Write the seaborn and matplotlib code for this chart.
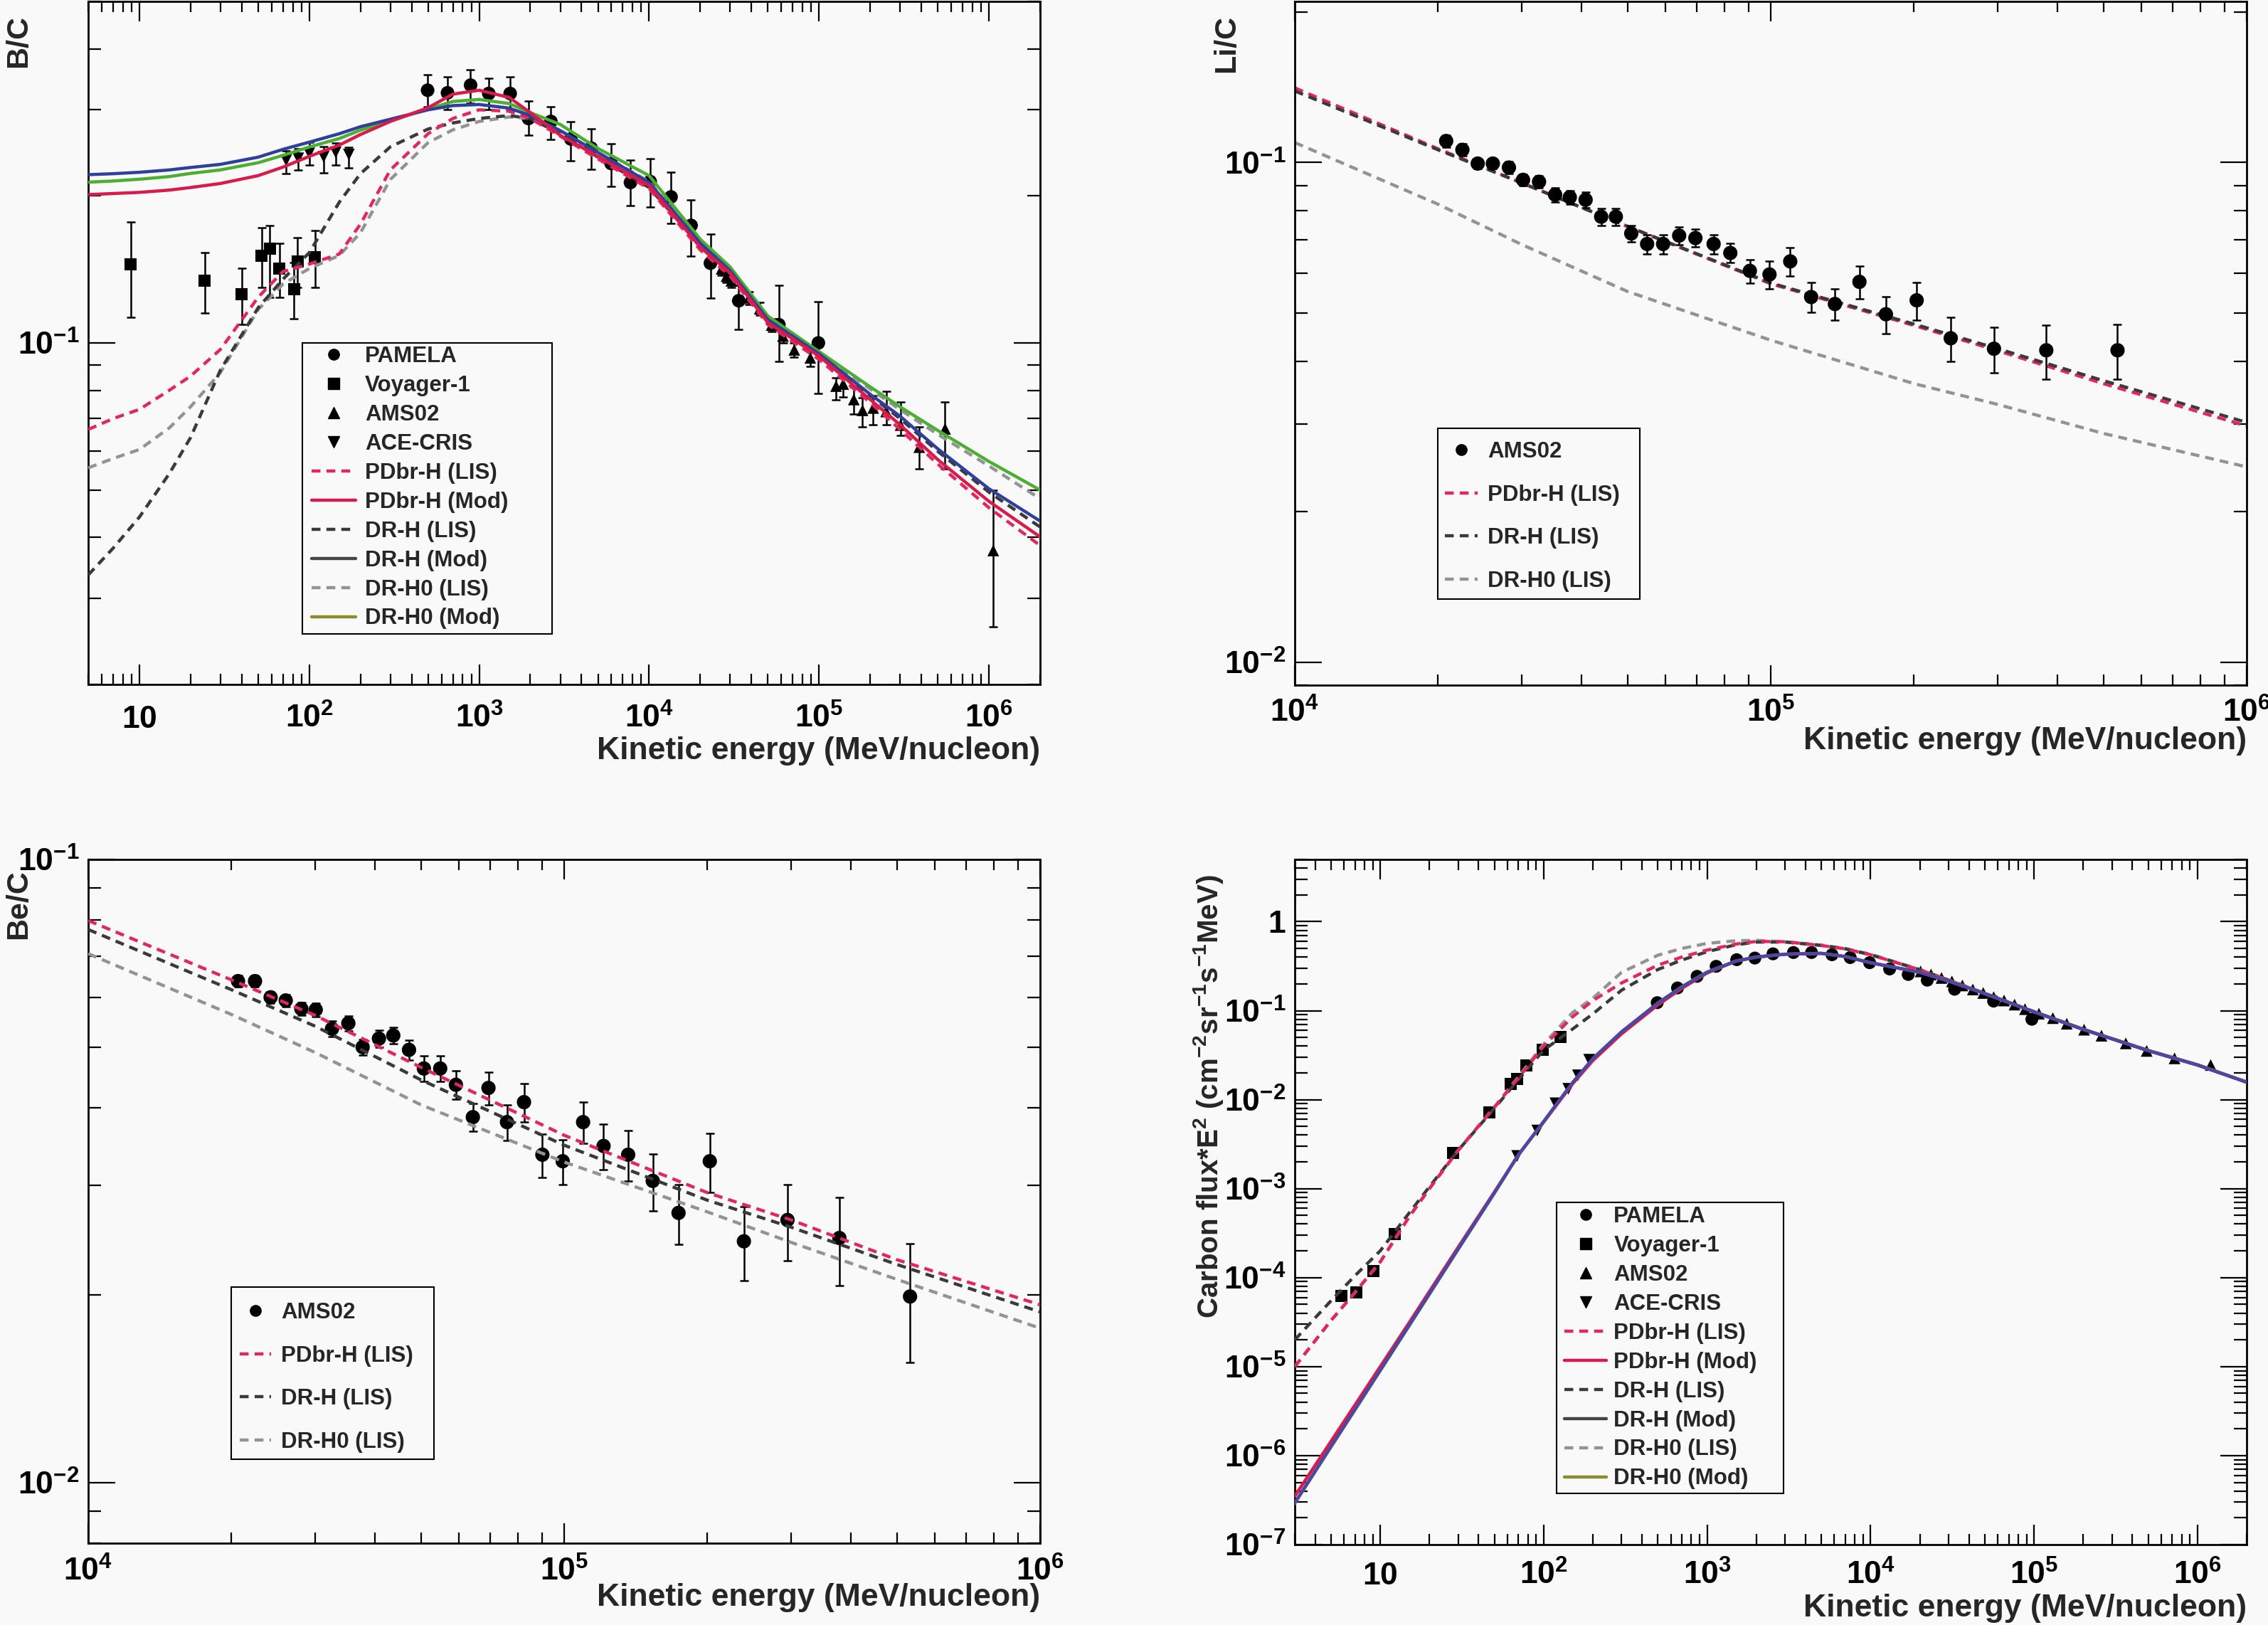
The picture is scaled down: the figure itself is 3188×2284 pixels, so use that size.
import numpy as np
import matplotlib
matplotlib.use("Agg")
import matplotlib.pyplot as plt
import seaborn as sns
from matplotlib import font_manager as fm
from matplotlib.lines import Line2D
from matplotlib.patches import Rectangle
from matplotlib.ticker import LogLocator, FuncFormatter, NullFormatter

# ---------------- B/C panel data ----------------
bc_pamela_x = [497, 651, 890, 1139, 1521, 1950, 2641, 3462, 4559, 5975, 7767, 10140, 13460, 17660, 22950, 33700, 58000, 99100]
bc_pamela_y = [0.329, 0.325, 0.337, 0.324, 0.324, 0.288, 0.284, 0.2615, 0.2505, 0.233, 0.213, 0.214, 0.199, 0.174, 0.1456, 0.122, 0.109, 0.100]
bc_pamela_lo = [0.304, 0.300, 0.310, 0.300, 0.300, 0.266, 0.261, 0.236, 0.2265, 0.209, 0.191, 0.190, 0.1757, 0.1506, 0.1237, 0.1065, 0.0916, 0.0788]
bc_pamela_hi = [0.354, 0.350, 0.362, 0.348, 0.350, 0.3126, 0.304, 0.284, 0.274, 0.256, 0.237, 0.238, 0.2234, 0.1965, 0.167, 0.1313, 0.131, 0.1216]

bc_voyager_x = [8.9, 24.2, 40.0, 52.5, 58.7, 66.8, 81.1, 85.3, 108]
bc_voyager_y = [0.145, 0.134, 0.126, 0.151, 0.156, 0.142, 0.129, 0.147, 0.150]
bc_voyager_lo = [0.113, 0.115, 0.109, 0.130, 0.124, 0.124, 0.112, 0.130, 0.130]
bc_voyager_hi = [0.177, 0.153, 0.142, 0.172, 0.174, 0.160, 0.146, 0.164, 0.170]

bc_ace_x = [73.1, 86.1, 100, 121.5, 143, 171]
bc_ace_y = [0.2365, 0.2387, 0.2443, 0.2404, 0.2455, 0.243]
bc_ace_lo = [0.222, 0.2256, 0.2312, 0.2231, 0.2312, 0.2279]
bc_ace_hi = [0.247, 0.250, 0.257, 0.2519, 0.2563, 0.2513]

bc_ams_x = [26700, 28550, 30480, 38730, 44770, 52600, 61340, 71500, 88900, 126000, 138700, 160200, 180300, 208300, 248200, 302000, 389000, 552000, 1060000]
bc_ams_y = [0.1418, 0.137, 0.134, 0.1237, 0.1175, 0.1088, 0.1033, 0.0968, 0.0932, 0.0816, 0.0824, 0.0766, 0.0728, 0.0736, 0.0724, 0.0679, 0.0612, 0.0667, 0.0376]
bc_ams_lo = [0.1375, 0.133, 0.130, 0.120, 0.114, 0.1055, 0.100, 0.0935, 0.0895, 0.0766, 0.0775, 0.0714, 0.0673, 0.0679, 0.0679, 0.0647, 0.0553, 0.0553, 0.0262]
bc_ams_hi = [0.146, 0.141, 0.138, 0.1275, 0.121, 0.112, 0.1065, 0.100, 0.097, 0.0848, 0.0870, 0.0813, 0.0772, 0.0781, 0.0795, 0.0757, 0.0673, 0.0757, 0.0499]

bc_energy = [5, 7, 10, 15, 20, 30, 50, 70, 100, 150, 200, 300, 500, 700, 1000, 1500, 2000, 3000, 5000,
             1e4, 2e4, 3e4, 5e4, 1e5, 2e5, 3e5, 5e5, 1e6, 2e6]
bc_pdbr_lis = [0.0665, 0.070, 0.0731, 0.080, 0.0855, 0.097, 0.124, 0.140, 0.145, 0.152, 0.175, 0.226, 0.268, 0.288, 0.300,
               0.298, 0.288, 0.265, 0.238, 0.207, 0.155, 0.137, 0.109, 0.0925, 0.0755, 0.0665, 0.0565, 0.046, 0.0385]
bc_pdbr_mod = [0.2012, 0.2022, 0.2033, 0.2055, 0.208, 0.212, 0.220, 0.229, 0.2409, 0.254, 0.267, 0.284, 0.303, 0.323, 0.329,
               0.318, 0.296, 0.266, 0.241, 0.210, 0.157, 0.139, 0.110, 0.094, 0.0766, 0.068, 0.0577, 0.0474, 0.0401]
bc_drh_lis = [0.0335, 0.038, 0.0440, 0.054, 0.064, 0.088, 0.118, 0.135, 0.153, 0.194, 0.222, 0.252, 0.274, 0.282, 0.288,
              0.292, 0.288, 0.268, 0.240, 0.208, 0.158, 0.139, 0.1105, 0.094, 0.078, 0.070, 0.060, 0.0495, 0.042]
bc_drh_mod = [0.221, 0.222, 0.2235, 0.226, 0.2286, 0.232, 0.240, 0.249, 0.2576, 0.268, 0.277, 0.287, 0.300, 0.306, 0.3076,
              0.3024, 0.292, 0.272, 0.2454, 0.213, 0.160, 0.1406, 0.1116, 0.095, 0.0785, 0.0708, 0.0607, 0.0503, 0.0432]
bc_drh0_lis = [0.0555, 0.058, 0.0605, 0.067, 0.074, 0.087, 0.117, 0.132, 0.142, 0.151, 0.168, 0.216, 0.257, 0.273, 0.284,
               0.290, 0.288, 0.272, 0.245, 0.214, 0.161, 0.142, 0.1125, 0.0955, 0.0805, 0.0730, 0.065, 0.0560, 0.048]
bc_drh0_mod = [0.2133, 0.2145, 0.2163, 0.219, 0.2223, 0.226, 0.2338, 0.242, 0.2518, 0.262, 0.2726, 0.285, 0.301, 0.312, 0.315,
               0.309, 0.296, 0.280, 0.250, 0.220, 0.163, 0.143, 0.1135, 0.096, 0.0813, 0.074, 0.0662, 0.0572, 0.0500]

# ---------------- Li/C panel data ----------------
li_ams_x = [20800, 22500, 24230, 26070, 28180, 30170, 32600, 35240, 37830, 40840, 44030, 47270, 50930, 54990, 59410, 64210,
            69460, 75860, 82240, 90400, 99400, 109900, 121600, 136400, 153600, 174600, 202600, 238900, 294500, 379300, 535400]
li_ams_y = [0.1104, 0.106, 0.0995, 0.0995, 0.0977, 0.0923, 0.0915, 0.0862, 0.0852, 0.0842, 0.0779, 0.0779, 0.0721, 0.0687,
            0.0687, 0.0714, 0.0706, 0.0687, 0.0659, 0.0607, 0.0597, 0.0634, 0.0538, 0.0521, 0.0577, 0.0497, 0.053, 0.0445,
            0.0424, 0.0421, 0.0421]
li_ams_err = [0.0030, 0.0029, 0.0023, 0.0023, 0.0027, 0.0025, 0.0025, 0.0028, 0.0027, 0.0029, 0.0030, 0.0030, 0.0028, 0.0030,
              0.0030, 0.0029, 0.0029, 0.0030, 0.0029, 0.0033, 0.0038, 0.0041, 0.0037, 0.0038, 0.0044, 0.0042, 0.0046, 0.0045,
              0.0044, 0.0052, 0.0053]
li_energy = [1e4, 2e4, 3e4, 5e4, 1e5, 2e5, 3e5, 5e5, 1e6]
li_pdbr_lis = [0.141, 0.1065, 0.091, 0.0745, 0.0572, 0.0472, 0.0420, 0.0361, 0.0297]
li_drh_lis = [0.139, 0.106, 0.091, 0.0745, 0.0574, 0.0475, 0.0424, 0.0366, 0.0302]
li_drh0_lis = [0.1096, 0.0825, 0.0685, 0.0552, 0.0441, 0.0361, 0.0328, 0.0287, 0.0246]

# ---------------- Be/C panel data ----------------
be_ams_x = [20640, 22410, 24170, 26000, 28040, 30060, 32520, 35200, 37720, 40820, 43750, 47210, 50730, 54900, 59230, 64290,
            69340, 75830, 82340, 90000, 99300, 109600, 121000, 136300, 153500, 173900, 202300, 238600, 294600, 378700, 533000]
be_ams_y = [0.0638, 0.0638, 0.0601, 0.0594, 0.0576, 0.0574, 0.0535, 0.0546, 0.0500, 0.0516, 0.0522, 0.0495, 0.0462, 0.0462,
            0.0435, 0.0386, 0.0430, 0.0379, 0.0408, 0.0336, 0.0328, 0.0379, 0.0347, 0.0336, 0.0305, 0.0271, 0.0328, 0.0244,
            0.0264, 0.0247, 0.0199]
be_ams_err = [0.0014, 0.0014, 0.0013, 0.0013, 0.0013, 0.0014, 0.0015, 0.0015, 0.0014, 0.0016, 0.0016, 0.0018, 0.0022, 0.0022,
              0.0023, 0.0020, 0.0026, 0.0025, 0.0029, 0.0027, 0.0027, 0.0029, 0.0029, 0.0031, 0.0032, 0.0030, 0.0036, 0.0033,
              0.0037, 0.0040, 0.0043]
be_energy = [1e4, 2e4, 3e4, 5e4, 1e5, 2e5, 3e5, 5e5, 1e6]
be_pdbr_lis = [0.0798, 0.0641, 0.0562, 0.0464, 0.0361, 0.0292, 0.0264, 0.0228, 0.0193]
be_drh_lis = [0.0772, 0.0618, 0.0540, 0.0443, 0.0348, 0.0284, 0.0257, 0.0224, 0.0188]
be_drh0_lis = [0.0706, 0.0564, 0.0490, 0.0404, 0.0327, 0.0272, 0.0243, 0.0212, 0.0177]

# ---------------- Carbon flux panel data ----------------
c_pamela_x = [495, 659, 868, 1136, 1517, 1959, 2530, 3374, 4355, 5808, 7506, 9870, 13080, 17000, 22230, 32660, 56600, 97000]
c_pamela_y = [0.123, 0.180, 0.243, 0.315, 0.374, 0.390, 0.435, 0.450, 0.450, 0.425, 0.395, 0.346, 0.294, 0.255, 0.220,
              0.174, 0.128, 0.080]
c_voyager_x = [5.77, 7.17, 9.06, 12.25, 27.9, 46.5, 62.8, 68.8, 78.7, 98.6, 126.4]
c_voyager_y = [6.25e-5, 6.87e-5, 1.18e-4, 3.09e-4, 2.51e-3, 7.2e-3, 0.01498, 0.0171, 0.0244, 0.0362, 0.0508]
c_ace_x = [68.8, 91.4, 118, 141.5, 162, 189.7]
c_ace_y = [2.33e-3, 4.5e-3, 9.1e-3, 0.01324, 0.01877, 0.0281]
c_ams_x = [20230, 23440, 27160, 31460, 36450, 42230, 48910, 56650, 65620, 76010, 88060, 107200, 130400, 158600, 202500,
           258700, 364400, 489000, 724000, 1205000]
c_ams_y = [0.276, 0.255, 0.233, 0.213, 0.192, 0.173, 0.158, 0.142, 0.130, 0.117, 0.104, 0.0925, 0.0824, 0.0713, 0.0611,
           0.0523, 0.0429, 0.0353, 0.0291, 0.0245]
c_energy = [3, 5, 7, 10, 15, 20, 30, 50, 70, 100, 150, 200, 300, 500, 700, 1000, 1500, 2000, 3000, 5000, 7000,
            1e4, 2e4, 3e4, 5e4, 1e5, 2e5, 5e5, 1e6, 2e6]
c_pdbr_lis = [1.0e-5, 3.3e-5, 6.8e-5, 1.5e-4, 4.8e-4, 1.0e-3, 2.7e-3, 8.2e-3, 0.0175, 0.040, 0.085, 0.13, 0.205, 0.325,
              0.40, 0.48, 0.56, 0.60, 0.595, 0.54, 0.495, 0.425, 0.288, 0.22, 0.156, 0.097, 0.0615, 0.0355, 0.0245, 0.0157]
c_pdbr_mod = [3.5e-7, 1.45e-6, 3.7e-6, 1.0e-5, 3.1e-5, 7.0e-5, 2.2e-4, 9.2e-4, 2.4e-3, 5.6e-3, 0.015, 0.0275, 0.055,
              0.116, 0.178, 0.265, 0.36, 0.40, 0.43, 0.44, 0.405, 0.345, 0.27, 0.215, 0.155, 0.097, 0.0615, 0.0355, 0.0245,
              0.0157]
c_drh_lis = [2.0e-5, 5.5e-5, 1.05e-4, 2.0e-4, 5.3e-4, 1.05e-3, 2.7e-3, 8.0e-3, 0.0168, 0.036, 0.062, 0.092, 0.17, 0.29,
             0.37, 0.46, 0.55, 0.59, 0.59, 0.54, 0.495, 0.425, 0.288, 0.22, 0.156, 0.097, 0.0615, 0.0355, 0.0245, 0.0157]
c_drh_mod = [2.95e-7, 1.27e-6, 3.3e-6, 9.1e-6, 2.9e-5, 6.6e-5, 2.1e-4, 9.0e-4, 2.4e-3, 5.7e-3, 0.0155, 0.029, 0.058,
             0.122, 0.185, 0.27, 0.36, 0.40, 0.43, 0.44, 0.405, 0.345, 0.27, 0.215, 0.155, 0.097, 0.0615, 0.0355, 0.0245,
             0.0157]
c_drh0_lis = [1.0e-5, 3.3e-5, 6.8e-5, 1.5e-4, 4.8e-4, 1.0e-3, 2.7e-3, 8.3e-3, 0.018, 0.042, 0.095, 0.138, 0.27, 0.42,
              0.50, 0.57, 0.61, 0.617, 0.595, 0.545, 0.50, 0.43, 0.29, 0.221, 0.157, 0.0975, 0.062, 0.0358, 0.0247, 0.0158]
c_drh0_mod = [2.9e-7, 1.25e-6, 3.25e-6, 9.0e-6, 2.85e-5, 6.5e-5, 2.08e-4, 8.9e-4, 2.38e-3, 5.65e-3, 0.0154, 0.0288,
              0.0578, 0.122, 0.186, 0.272, 0.362, 0.402, 0.432, 0.442, 0.407, 0.347, 0.271, 0.216, 0.156, 0.0975, 0.062,
              0.0358, 0.0247, 0.0158]

data_labels = ["PAMELA", "Voyager-1", "AMS02", "ACE-CRIS"]
model_labels = ["PDbr-H (LIS)", "PDbr-H (Mod)", "DR-H (LIS)", "DR-H (Mod)", "DR-H0 (LIS)", "DR-H0 (Mod)"]

# ---------------- style ----------------
BG = "#f9f9f9"
RED_D = "#e3265e"
RED_S = "#d81b4a"
DARK_D = "#3a3a3a"
BLUE_S = "#2f3f9e"
BLUE_C = "#4848a8"
GRAY_D = "#939393"
GREEN_S = "#4caf32"
LEG_DARK = "#444444"
LEG_OLIVE = "#8c8c2a"
DASH = (0, (2.8, 1.9))
LW = 3.2


def has_font(name):
    try:
        fm.findfont(fm.FontProperties(family=name, weight="bold"), fallback_to_default=False)
        return True
    except Exception:
        return False


if has_font("Liberation Sans Narrow"):
    TICKFONT, TICKSIZE = "Liberation Sans Narrow", 35
else:
    TICKFONT, TICKSIZE = "Liberation Sans", 32

sns.set_theme(style="ticks")
plt.rcParams.update({
    "font.family": ["Liberation Sans", "DejaVu Sans"],
    "font.weight": "bold",
    "axes.labelweight": "bold",
    "mathtext.fontset": "custom",
    "mathtext.rm": TICKFONT + ":bold",
    "mathtext.bf": TICKFONT + ":bold",
    "mathtext.it": TICKFONT + ":bold:italic",
    "mathtext.sf": TICKFONT + ":bold",
    "mathtext.default": "bf",
    "figure.facecolor": BG,
    "axes.facecolor": BG,
    "savefig.facecolor": BG,
    "axes.edgecolor": "black",
    "axes.linewidth": 2.0,
})

W, H = 3188, 2284
fig = plt.figure(figsize=(W / 100, H / 100), dpi=100)


def px_axes(l, t, r, b):
    return fig.add_axes([l / W, 1 - b / H, (r - l) / W, (b - t) / H])


def dec_fmt(v, pos):
    e = int(np.round(np.log10(v)))
    if e == 0:
        return r"$1$"
    if e == 1:
        return r"$10$"
    return r"$10^{%d}$" % e


def style_axis(ax, xlim, ylim, xpad, xlab_y, ylab, ylab_x, ylab_y, ylab_size=31):
    ax.set_xscale("log")
    ax.set_yscale("log")
    ax.set_xlim(*xlim)
    ax.set_ylim(*ylim)
    for axis in (ax.xaxis, ax.yaxis):
        axis.set_major_locator(LogLocator(base=10, numticks=30))
        axis.set_minor_locator(LogLocator(base=10, subs=np.arange(2, 10), numticks=100))
        axis.set_major_formatter(FuncFormatter(dec_fmt))
        axis.set_minor_formatter(NullFormatter())
    ax.tick_params(which="both", direction="in", top=True, right=True, width=1.6, colors="black",
                   labelsize=TICKSIZE)
    ax.tick_params(axis="x", which="major", length=20, pad=xpad)
    ax.tick_params(axis="x", which="minor", length=11)
    ax.tick_params(axis="y", which="major", length=27, pad=9)
    ax.tick_params(axis="y", which="minor", length=13)
    for sp in ax.spines.values():
        sp.set_linewidth(2.0)
        sp.set_color("black")
    ax.set_xlabel("Kinetic energy (MeV/nucleon)", fontsize=32, fontweight="bold", loc="right")
    ax.xaxis.set_label_coords(1.0, xlab_y)
    ax.set_ylabel(ylab, fontsize=ylab_size, fontweight="bold", loc="top")
    ax.yaxis.set_label_coords(ylab_x, ylab_y)
    for t in ax.xaxis.get_major_ticks():
        t.label1.set_verticalalignment("baseline")
    ax.grid(False)


def curve(ax, x, y, color, dashed, z=4):
    sns.lineplot(x=x, y=y, ax=ax, color=color, linewidth=LW, estimator=None, sort=False,
                 linestyle=DASH if dashed else "-", zorder=z, legend=False)


def points(ax, x, y, marker, s, lo=None, hi=None, err=None, z=3):
    if lo is not None:
        yy = np.array(y)
        ax.errorbar(x, y, yerr=[yy - np.array(lo), np.array(hi) - yy], fmt="none", ecolor="black",
                    elinewidth=1.8, capsize=4.5, capthick=1.8, zorder=z - 0.5)
    if err is not None:
        ax.errorbar(x, y, yerr=err, fmt="none", ecolor="black", elinewidth=1.8, capsize=4.5, capthick=1.8,
                    zorder=z - 0.5)
    sns.scatterplot(x=x, y=y, ax=ax, marker=marker, s=s, color="black", edgecolor="none", linewidth=0,
                    zorder=z, legend=False)


def frame(l, t, r, b):
    fig.add_artist(Rectangle((l / W, 1 - b / H), (r - l) / W, (b - t) / H, transform=fig.transFigure,
                             fill=False, edgecolor="black", linewidth=1.5, zorder=20))


def put_legend(ax, handles, labels, hx, ty, hlen, hpad, lspace):
    leg = ax.legend(handles, labels, loc="upper left", bbox_to_anchor=(hx / W, 1 - ty / H),
                    bbox_transform=fig.transFigure, frameon=False, handlelength=hlen, handletextpad=hpad,
                    labelspacing=lspace, borderpad=0, borderaxespad=0, numpoints=1,
                    prop={"size": 22.5, "weight": "bold", "family": ["Liberation Sans", "DejaVu Sans"]})
    leg.set_zorder(20)
    return leg


def mk(marker, ms=11):
    return Line2D([], [], marker=marker, color="black", linestyle="none", markersize=ms)


def ln(color, dashed):
    return Line2D([], [], color=color, linewidth=LW, linestyle=DASH if dashed else "-")


# ================= Panel 1: B/C =================
ax1 = px_axes(124, 2, 1462, 962)
style_axis(ax1, (5, 2e6), (0.02, 0.5), xpad=44, xlab_y=-0.076, ylab="B/C", ylab_x=-0.058, ylab_y=0.98)
points(ax1, bc_pamela_x, bc_pamela_y, "o", 190, bc_pamela_lo, bc_pamela_hi)
points(ax1, bc_voyager_x, bc_voyager_y, "s", 150, bc_voyager_lo, bc_voyager_hi)
points(ax1, bc_ace_x, bc_ace_y, "v", 140, bc_ace_lo, bc_ace_hi)
points(ax1, bc_ams_x, bc_ams_y, "^", 140, bc_ams_lo, bc_ams_hi)
curve(ax1, bc_energy, bc_drh0_lis, GRAY_D, True)
curve(ax1, bc_energy, bc_drh_lis, DARK_D, True)
curve(ax1, bc_energy, bc_pdbr_lis, RED_D, True)
curve(ax1, bc_energy, bc_drh0_mod, GREEN_S, False)
curve(ax1, bc_energy, bc_drh_mod, BLUE_S, False)
curve(ax1, bc_energy, bc_pdbr_mod, RED_S, False)
h1 = [mk("o"), mk("s"), mk("^"), mk("v"), ln(RED_D, True), ln(RED_S, False), ln(DARK_D, True),
      ln(LEG_DARK, False), ln(GRAY_D, True), ln(LEG_OLIVE, False)]
put_legend(ax1, h1, data_labels + model_labels, 438, 486, 1.98, 0.42, 0.35)
frame(425, 482, 776, 891)

# ================= Panel 2: Li/C =================
ax2 = px_axes(1820, 2, 3158, 963)
style_axis(ax2, (1e4, 1e6), (0.009, 0.21), xpad=37, xlab_y=-0.060, ylab="Li/C", ylab_x=-0.057, ylab_y=0.98)
curve(ax2, li_energy, li_drh0_lis, GRAY_D, True, z=2)
curve(ax2, li_energy, li_pdbr_lis, RED_D, True, z=2)
curve(ax2, li_energy, li_drh_lis, DARK_D, True, z=2)
points(ax2, li_ams_x, li_ams_y, "o", 210, err=li_ams_err, z=4)
h2 = [mk("o"), ln(RED_D, True), ln(DARK_D, True), ln(GRAY_D, True)]
put_legend(ax2, h2, ["AMS02", "PDbr-H (LIS)", "DR-H (LIS)", "DR-H0 (LIS)"], 2031, 620, 1.47, 0.45, 0.98)
frame(2021, 602, 2305, 842)

# ================= Panel 3: Be/C =================
ax3 = px_axes(124, 1208, 1462, 2169)
style_axis(ax3, (1e4, 1e6), (0.008, 0.1), xpad=38, xlab_y=-0.058, ylab="Be/C", ylab_x=-0.058, ylab_y=0.985)
points(ax3, be_ams_x, be_ams_y, "o", 210, err=be_ams_err)
curve(ax3, be_energy, be_drh0_lis, GRAY_D, True)
curve(ax3, be_energy, be_drh_lis, DARK_D, True)
curve(ax3, be_energy, be_pdbr_lis, RED_D, True)
h3 = [mk("o"), ln(RED_D, True), ln(DARK_D, True), ln(GRAY_D, True)]
put_legend(ax3, h3, ["AMS02", "PDbr-H (LIS)", "DR-H (LIS)", "DR-H0 (LIS)"], 337, 1830, 1.4, 0.45, 0.98)
frame(325, 1809, 610, 2051)

# ================= Panel 4: Carbon flux =================
ax4 = px_axes(1820, 1208, 3158, 2171)
style_axis(ax4, (3, 2e6), (1e-7, 5), xpad=40, xlab_y=-0.072,
           ylab=r"Carbon flux*E$^{2}$ (cm$^{-2}$sr$^{-1}$s$^{-1}$MeV)", ylab_x=-0.073, ylab_y=0.978, ylab_size=29)
points(ax4, c_voyager_x, c_voyager_y, "s", 150)
points(ax4, c_ace_x, c_ace_y, "v", 140)
points(ax4, c_pamela_x, c_pamela_y, "o", 170)
points(ax4, c_ams_x, c_ams_y, "^", 140)
curve(ax4, c_energy, c_drh0_lis, GRAY_D, True)
curve(ax4, c_energy, c_drh_lis, DARK_D, True)
curve(ax4, c_energy, c_pdbr_lis, RED_D, True)
curve(ax4, c_energy, c_drh0_mod, LEG_OLIVE, False)
curve(ax4, c_energy, c_pdbr_mod, RED_S, False)
curve(ax4, c_energy, c_drh_mod, BLUE_C, False)
h4 = [mk("o"), mk("s"), mk("^"), mk("v"), ln(RED_D, True), ln(RED_S, False), ln(DARK_D, True),
      ln(LEG_DARK, False), ln(GRAY_D, True), ln(LEG_OLIVE, False)]
put_legend(ax4, h4, data_labels + model_labels, 2199, 1695, 1.9, 0.32, 0.35)
frame(2188, 1690, 2507, 2099)

fig.savefig("out.png", dpi=100, facecolor=BG)
